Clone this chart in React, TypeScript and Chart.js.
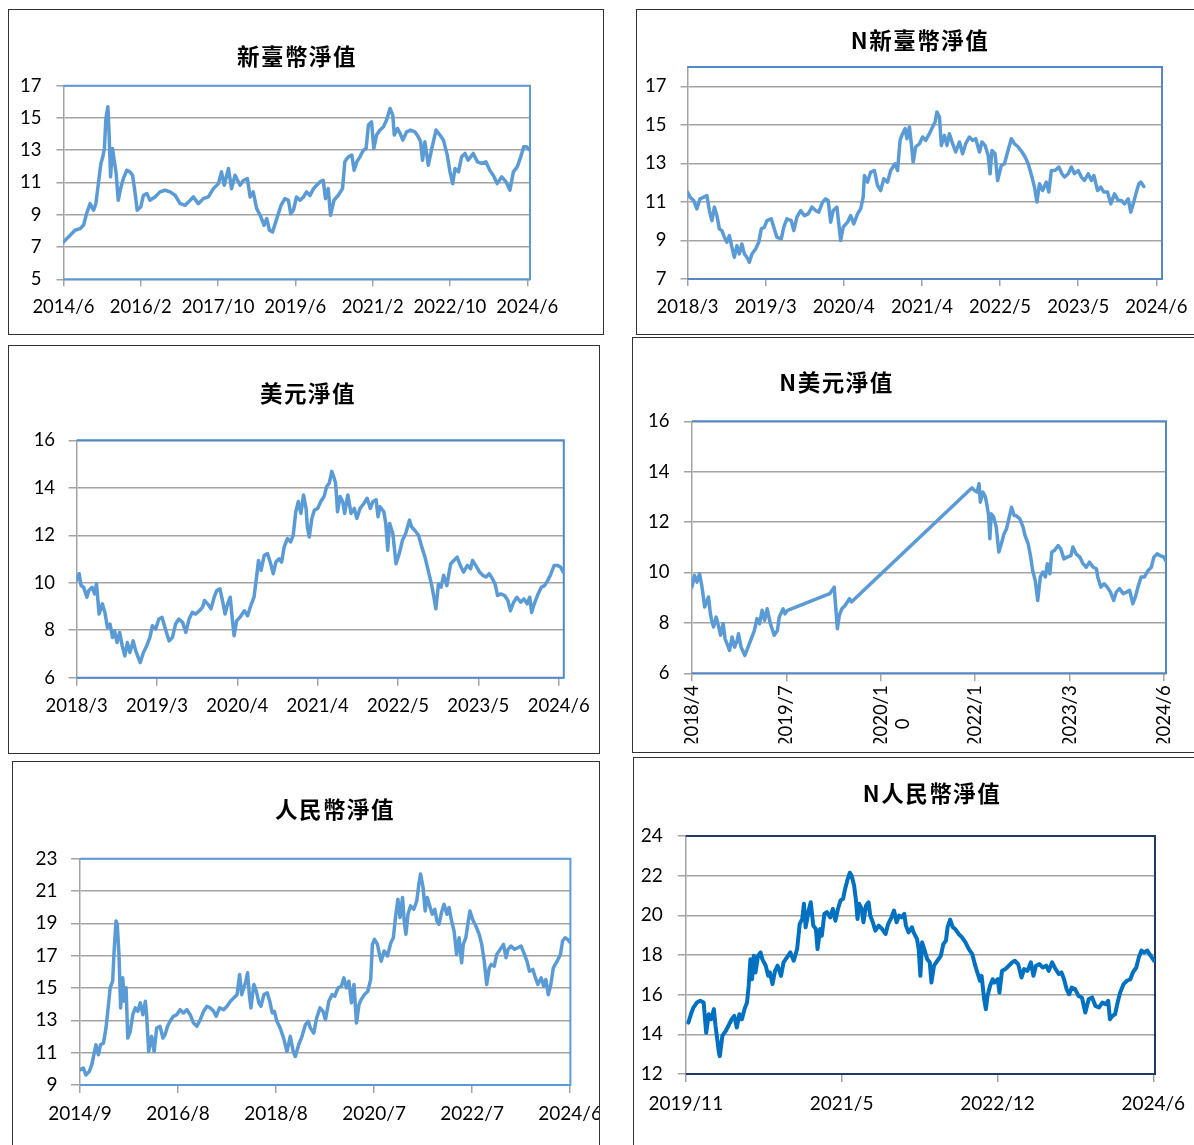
import React, { useEffect, useRef } from "react";
import { Chart, registerables } from "chart.js";
Chart.register(...registerables);

// ---------------- DATA ----------------
// 新臺幣淨值 (months since 2014/6)
const twdMonths = [0,1.7,3.0,4.3,5.2,6.0,6.9,7.8,8.4,9.1,9.7,10.2,10.6,11.0,11.5,11.8,12.2,12.7,13.2,13.6,14.2,14.8,15.5,16.4,17.2,17.9,18.5,19.1,20.0,20.7,21.6,22.4,23.7,25.0,26.3,27.6,28.9,30.2,31.5,32.8,33.6,34.9,36.2,37.5,38.8,40.1,40.9,41.6,42.7,43.5,44.4,45.7,46.6,47.6,48.3,49.1,50.0,50.9,51.9,52.6,53.3,54.1,55.2,56.3,57.3,58.2,58.8,59.5,60.3,61.2,62.1,62.9,63.8,64.7,65.5,66.4,67.2,67.8,68.5,69.1,70.0,71.1,72.2,72.8,73.7,74.6,75.2,75.9,76.7,77.6,78.3,78.9,79.7,80.3,81.0,81.9,82.8,83.6,84.5,85.2,85.6,86.4,87.1,87.8,88.8,89.8,90.9,91.8,92.4,92.9,93.5,94.4,95.3,96.4,97.4,98.3,99.3,100.0,100.7,101.3,102.2,103.0,103.9,104.7,106.0,107.1,108.2,109.3,110.3,111.2,112.2,113.4,114.5,115.5,116.4,117.4,118.3,119.1,119.8,120.7];
const twdNav = [7.31,7.72,8.04,8.14,8.35,9.07,9.69,9.28,9.69,11.04,12.18,12.59,13.11,14.97,15.7,14.14,11.35,13.11,12.28,11.66,9.9,10.62,11.24,11.76,11.66,11.45,10.42,9.28,9.48,10.2,10.31,9.9,10.1,10.42,10.52,10.42,10.21,9.69,9.59,9.9,10.11,9.69,10.0,10.11,10.62,10.93,11.66,10.83,11.87,10.62,11.45,10.83,11.14,11.24,10.1,10.42,9.38,8.97,8.35,8.76,8.04,7.93,8.76,9.59,10.0,9.9,9.07,9.28,10.1,9.9,10.1,10.42,10.2,10.62,10.83,11.04,11.14,10.0,10.62,8.97,9.9,10.21,10.62,12.28,12.59,12.7,11.76,12.28,12.59,13.0,13.11,14.56,14.76,13.11,13.94,14.25,14.45,14.87,15.59,15.18,13.94,14.35,14.04,13.63,14.14,14.25,14.14,13.83,13.52,12.38,13.52,12.07,13.11,14.25,13.94,13.63,12.7,11.66,10.93,11.87,11.66,12.59,12.8,12.38,12.8,12.28,12.18,12.28,11.76,11.45,10.93,11.35,11.04,10.52,11.66,11.97,12.59,13.21,13.21,13.0];
const twdTickMonths = [0,20,40,60,80,100,120];
const twdTickLabels = ["2014/6","2016/2","2017/10","2019/6","2021/2","2022/10","2024/6"];
const twdYTicks = [5,7,9,11,13,15,17];

// N新臺幣淨值 (months since 2018/3)
const nTwdMonths = [0,0.4,1.0,1.5,2.0,2.6,3.1,3.5,3.9,4.3,4.7,5.1,5.5,5.9,6.3,6.7,7.1,7.5,7.9,8.3,8.7,9.1,9.5,9.9,10.3,10.9,11.4,11.8,12.3,12.7,13.4,13.8,14.3,15.0,15.4,15.9,16.6,17.0,17.5,18.1,18.7,19.3,19.9,20.5,21.0,21.6,22.1,22.5,22.9,23.3,23.9,24.2,24.5,24.9,25.6,26.1,26.6,27.2,27.7,28.1,28.3,28.8,29.3,29.9,30.4,30.9,31.4,32.0,32.5,33.2,33.6,34.0,34.4,34.8,35.1,35.5,35.8,36.1,36.5,37.1,37.6,38.1,38.7,39.2,39.6,39.9,40.3,40.6,41.1,41.5,41.9,42.4,42.9,43.5,44.0,44.5,45.1,45.6,46.1,46.7,47.1,47.6,48.1,48.4,48.7,49.2,49.6,50.2,50.7,51.2,51.8,52.3,52.9,53.5,54.0,54.5,55.1,55.5,55.9,56.3,56.8,57.4,57.8,58.2,58.8,59.4,59.9,60.3,60.9,61.4,61.9,62.5,63.0,63.5,64.1,64.6,65.0,65.6,66.1,66.6,67.2,67.7,68.3,68.9,69.4,69.9,70.5,70.9,71.3,71.8,72.2,72.5,73.0];
const nTwdNav = [11.51,11.25,11.07,10.64,11.16,11.25,11.33,10.55,10.03,10.73,10.29,9.6,9.51,9.17,8.91,9.25,8.65,8.13,8.73,8.3,8.82,8.3,8.13,7.87,8.3,8.56,8.91,9.6,9.69,10.03,10.12,9.69,9.17,9.08,9.69,10.12,10.03,9.51,10.21,10.55,10.29,10.38,10.73,10.55,10.47,10.99,11.16,11.07,9.95,10.55,10.73,9.86,9.0,9.69,9.95,10.29,9.86,10.38,10.64,11.25,12.37,12.03,12.55,12.63,11.85,11.59,12.2,12.03,12.63,12.98,12.63,14.19,14.54,14.8,14.28,14.89,14.02,13.07,13.85,14.02,14.37,14.19,14.54,14.89,15.15,15.67,15.41,13.93,14.45,13.93,14.54,14.02,13.59,14.11,13.5,14.02,14.37,14.19,14.28,13.59,14.11,13.93,13.41,12.46,13.67,13.5,12.11,12.89,12.98,13.59,14.28,14.02,13.85,13.59,13.33,12.98,12.29,11.77,10.99,11.94,11.59,12.03,11.51,12.63,12.63,12.81,12.46,12.29,12.46,12.81,12.46,12.63,12.29,12.11,12.46,12.11,12.37,11.59,11.77,11.51,11.51,10.9,11.42,11.07,11.07,10.9,11.16,10.47,10.9,11.51,11.94,12.03,11.8];
const nTwdTickMonths = [0,12.5,25,37.5,50,62.5,75];
const nTwdTickLabels = ["2018/3","2019/3","2020/4","2021/4","2022/5","2023/5","2024/6"];
const nTwdYTicks = [7,9,11,13,15,17];

// 美元淨值 (months since 2018/3)
const usdMonths = [0,0.4,0.7,1.1,1.6,1.9,2.4,2.8,3.1,3.5,4.0,4.4,4.8,5.2,5.6,5.9,6.3,6.7,7.1,7.5,7.9,8.3,8.8,9.2,9.6,9.9,10.4,10.9,11.4,11.8,12.3,12.8,13.3,13.9,14.4,14.9,15.4,15.9,16.5,17.0,17.5,18.0,18.5,19.1,19.6,19.9,20.4,20.9,21.4,21.8,22.3,22.7,23.1,23.5,23.9,24.2,24.5,24.9,25.4,26.1,26.6,27.1,27.6,28.0,28.3,28.7,29.2,29.7,30.2,30.6,31.0,31.5,31.9,32.3,32.8,33.3,33.7,34.1,34.5,34.9,35.3,35.7,35.9,36.2,36.6,37.0,37.5,38.0,38.5,38.9,39.3,39.7,40.0,40.3,40.6,41.0,41.4,41.7,42.2,42.7,43.2,43.6,44.1,44.7,45.2,45.7,46.1,46.6,46.9,47.2,47.8,48.1,48.4,48.7,49.2,49.7,50.2,50.7,51.2,51.8,52.1,52.6,53.2,53.7,54.2,54.7,55.2,55.5,55.9,56.3,56.7,57.1,57.6,58.2,58.7,59.2,59.7,60.2,60.8,61.3,61.6,62.1,62.7,63.2,63.7,64.2,64.7,65.1,65.5,66.0,66.6,67.1,67.5,68.0,68.5,69.1,69.6,70.1,70.5,70.8,71.2,71.8,72.3,72.8,73.3,73.7,74.3,74.8,75.3,75.7];
const usdNav = [10.1,10.38,9.88,9.81,9.39,9.67,9.81,9.53,9.95,8.68,9.11,8.75,8.12,8.26,7.69,7.98,7.48,7.91,7.34,6.92,7.48,7.06,7.55,7.13,6.85,6.64,7.06,7.34,7.69,8.19,8.05,8.47,8.54,7.98,7.55,7.69,8.26,8.47,8.33,7.91,8.47,8.75,8.68,8.82,8.97,9.25,9.11,8.9,9.39,9.67,9.74,9.25,8.68,9.11,9.39,8.54,7.77,8.4,8.54,8.82,8.61,9.04,9.39,10.24,10.94,10.52,11.16,11.23,10.8,10.38,10.87,11.01,10.87,11.51,11.86,11.72,12.0,12.99,13.42,12.92,13.7,13.13,12.36,11.93,12.71,13.06,13.13,13.42,13.63,14.05,14.19,14.69,14.47,14.19,12.99,13.63,13.42,12.92,13.7,12.92,13.13,12.71,13.13,13.34,13.56,13.13,13.42,13.49,12.78,13.2,12.99,12.5,11.37,12.5,12.07,10.8,11.23,11.79,12.07,12.64,12.36,12.21,12.0,11.51,11.08,10.52,9.95,9.53,8.9,9.95,9.81,10.31,9.88,10.8,10.94,11.08,10.73,10.45,10.73,10.59,10.94,10.73,10.45,10.31,10.24,10.38,10.17,9.95,9.46,9.53,9.46,9.25,8.82,9.18,9.39,9.18,9.32,9.11,9.39,8.75,9.11,9.53,9.81,9.88,10.1,10.31,10.73,10.73,10.66,10.45];
const usdTickMonths = [0,12.5,25,37.5,50,62.5,75];
const usdTickLabels = ["2018/3","2019/3","2020/4","2021/4","2022/5","2023/5","2024/6"];
const usdYTicks = [6,8,10,12,14,16];

// N美元淨值 (months since 2018/4; gaps are drawn as straight lines)
const nUsdMonths = [0,0.4,0.8,1.2,1.5,1.7,2.0,2.2,2.6,2.9,3.1,3.4,3.8,4.2,4.5,4.9,5.2,5.5,5.9,6.3,6.7,7.1,7.3,7.7,8.3,8.8,9.4,9.8,10.2,10.6,11.0,11.4,11.8,12.3,12.9,13.4,13.7,14.3,14.6,15.0,21.6,22.3,22.5,22.8,23.1,23.5,24.0,24.7,25.0,43.9,44.3,44.7,45.0,45.2,45.6,46.0,46.3,46.5,46.7,46.9,47.3,47.7,48.1,48.5,48.9,49.3,49.6,50.1,50.5,50.8,51.4,51.9,52.2,52.7,53.1,53.4,53.8,54.2,54.6,55.0,55.4,55.7,56.1,56.4,56.8,57.4,57.8,58.3,58.8,59.4,59.7,60.2,60.8,61.3,61.8,62.3,62.9,63.4,63.6,64.1,64.6,65.1,65.6,66.1,66.5,67.0,67.6,68.1,68.6,69.1,69.5,69.9,70.4,70.9,71.5,72.0,72.4,72.9,73.4,74.0,74.3];
const nUsdNav = [9.42,9.88,9.62,9.95,9.55,9.22,8.63,8.76,9.03,8.36,8.1,7.84,8.23,7.84,7.51,7.97,7.37,7.18,6.91,7.44,7.04,7.31,7.57,7.04,6.71,7.04,7.44,7.7,8.17,7.97,8.5,8.1,8.56,7.97,7.51,7.7,8.23,8.56,8.36,8.5,9.16,9.42,8.76,7.77,8.3,8.56,8.69,8.96,8.83,13.36,13.25,13.19,13.52,12.79,13.19,12.99,12.59,12.26,11.34,12.33,12.2,11.8,10.81,11.14,11.53,11.73,12.06,12.59,12.26,12.26,12.13,11.8,11.47,11.14,10.61,10.08,9.69,8.89,9.82,10.02,9.82,10.35,9.95,10.81,10.87,11.07,10.94,10.54,10.61,10.67,11.01,10.74,10.61,10.35,10.21,10.41,10.21,10.15,9.82,9.42,9.55,9.42,9.22,8.89,9.22,9.36,9.16,9.22,9.29,8.76,9.03,9.42,9.82,9.82,10.08,10.21,10.61,10.74,10.67,10.61,10.45];
const nUsdTickMonths = [0,14.8,29.6,44.4,59.2,74];
const nUsdTickLabels: (string | string[])[] = ["2018/4","2019/7",["2020/1","0       "],"2022/1","2023/3","2024/6"];
const nUsdYTicks = [6,8,10,12,14,16];

// 人民幣淨值 (months since 2014/9)
const cnyMonths = [0,0.8,1.4,2.2,2.8,3.3,3.8,4.4,4.9,5.6,6.2,6.8,7.2,7.8,8.1,8.6,8.9,9.3,9.7,10.2,10.6,11.0,11.4,12.0,12.6,13.2,13.8,14.4,15.0,15.6,15.9,16.4,17.1,17.7,18.3,19.1,19.8,20.3,20.9,21.5,22.3,23.1,23.9,24.7,25.5,26.3,27.1,27.9,28.7,29.5,30.3,31.1,31.9,32.5,33.3,34.3,35.1,35.9,36.7,37.5,38.1,38.6,39.1,39.6,40.0,40.5,40.8,41.5,42.1,42.7,43.2,43.9,44.7,45.3,45.9,46.4,47.0,47.8,48.6,49.4,50.2,50.9,51.4,52.2,53.0,53.8,54.5,55.0,55.8,56.5,57.3,58.0,58.6,59.4,60.2,60.8,61.6,62.4,63.0,63.6,64.2,64.8,65.4,66.0,66.6,67.1,67.9,68.7,69.4,69.8,70.3,71.0,71.5,71.9,72.6,73.4,74.2,74.8,75.4,75.9,76.4,77.0,77.4,77.8,78.3,78.9,79.7,80.4,80.9,81.3,81.9,82.4,82.9,83.6,84.1,84.7,85.2,85.7,86.3,86.9,87.6,88.1,88.7,89.3,89.9,90.5,91.1,91.5,92.1,92.7,93.1,93.7,94.5,95.3,95.9,96.5,97.1,97.7,98.2,98.9,99.5,100.3,101.1,101.7,102.2,102.9,103.7,104.5,105.3,106.1,106.7,107.3,108.1,108.6,109.3,110.1,110.7,111.2,111.8,112.4,113.0,113.9,114.7,115.2,115.8,116.4,117.1];
const cnyNav = [9.94,10.04,9.62,9.83,10.25,10.87,11.49,10.87,11.49,11.59,12.52,13.97,15.01,15.42,17.08,19.15,18.94,17.08,13.77,15.63,14.18,15.01,11.9,12.32,13.35,13.77,13.56,14.08,13.35,14.18,13.35,11.07,12.01,11.07,12.52,12.63,11.9,12.11,12.63,12.94,13.25,13.35,13.66,13.46,13.66,13.35,12.83,12.63,13.04,13.56,13.87,13.77,13.56,13.25,13.77,13.66,13.87,14.18,14.39,14.59,15.84,14.59,15.01,15.42,15.94,14.39,13.77,15.22,14.8,14.08,13.87,14.59,14.7,14.18,13.46,13.56,12.94,12.52,11.9,11.07,12.01,11.07,10.76,11.49,12.01,12.73,12.94,12.52,12.21,13.15,13.77,13.56,13.04,14.18,14.59,14.49,15.01,15.11,15.63,15.01,15.42,14.08,15.22,12.83,13.97,14.28,14.59,14.8,15.53,17.7,18.01,17.7,17.08,16.66,17.29,16.98,17.8,18.11,19.56,20.49,19.36,20.6,19.15,18.32,19.56,20.08,19.87,20.39,21.43,22.05,21.22,19.77,20.6,19.98,19.56,19.87,19.15,18.94,19.67,20.18,19.56,19.98,19.15,18.53,17.08,18.11,16.56,17.7,18.11,19.15,19.77,19.25,18.84,18.32,17.7,16.66,15.22,16.25,16.46,16.35,17.08,17.39,17.7,16.87,17.39,17.6,17.39,17.49,17.6,17.08,16.66,16.04,16.15,15.73,15.22,15.63,15.11,15.53,14.59,15.22,16.25,16.66,17.08,17.91,18.11,18.01,17.8];
const cnyTickMonths = [0,23.4,46.8,70.2,93.6,117];
const cnyTickLabels = ["2014/9","2016/8","2018/8","2020/7","2022/7","2024/6"];
const cnyYTicks = [9,11,13,15,17,19,21,23];

// N人民幣淨值 (months since 2019/11)
const nCnyMonths = [0.3,0.6,0.9,1.3,1.7,2.1,2.4,2.7,3.0,3.3,3.5,3.9,4.0,4.3,4.7,5.0,5.4,5.7,6.0,6.3,6.6,6.9,7.2,7.4,7.6,7.8,8.0,8.2,8.5,8.8,9.0,9.4,9.7,9.9,10.2,10.5,10.8,11.2,11.5,11.9,12.3,12.7,13.1,13.4,13.7,13.9,14.1,14.5,14.7,15.0,15.3,15.5,15.8,16.0,16.3,16.6,17.0,17.3,17.6,17.9,18.2,18.5,18.7,19.0,19.3,19.5,19.8,20.0,20.2,20.4,20.7,20.9,21.2,21.5,21.7,22.0,22.3,22.7,23.1,23.5,23.8,24.2,24.5,24.8,25.1,25.4,25.7,25.9,26.2,26.6,26.8,27.2,27.4,27.6,27.8,28.1,28.4,28.7,28.9,29.2,29.6,30.0,30.3,30.6,30.8,31.1,31.4,31.7,32.1,32.5,32.9,33.3,33.7,34.0,34.3,34.6,34.8,35.1,35.3,35.5,35.8,36.1,36.3,36.7,36.9,37.2,37.6,38.0,38.4,38.7,39.1,39.5,39.8,40.2,40.6,40.9,41.2,41.6,42.0,42.4,42.7,43.1,43.5,43.9,44.2,44.5,44.8,45.1,45.4,45.8,46.2,46.6,47.0,47.4,47.8,48.2,48.6,49.0,49.4,49.7,49.9,50.2,50.5,50.8,51.1,51.5,51.9,52.3,52.6,53.0,53.3,53.6,53.9,54.3,54.7,55.1];
const nCnyNav = [14.59,15.01,15.35,15.6,15.69,15.6,14.08,15.01,14.76,15.27,14.42,13.07,12.9,13.92,14.17,14.42,14.76,14.93,14.34,15.01,14.76,15.27,15.6,16.45,17.79,16.78,17.96,17.12,17.96,18.13,17.79,17.46,16.95,17.12,16.53,17.2,17.46,16.95,17.63,17.88,18.13,17.71,18.3,19.56,19.82,20.58,19.4,20.32,20.66,19.48,19.31,18.3,19.31,18.97,20.07,20.16,19.9,20.32,19.73,20.32,20.75,20.83,21.25,21.76,22.15,22.01,21.5,20.83,19.82,20.58,20.32,19.65,20.49,20.66,19.99,19.65,19.23,19.48,19.31,19.06,19.56,19.9,20.24,19.65,19.99,19.9,20.07,19.48,19.14,19.4,19.14,18.81,18.3,16.95,18.64,18.22,17.79,17.63,16.61,17.46,17.71,17.96,18.55,18.72,19.4,19.78,19.4,19.31,19.06,18.89,18.64,18.3,18.05,17.54,17.12,16.7,16.95,15.77,15.27,15.94,16.45,16.78,16.61,16.78,16.11,17.2,17.29,17.46,17.63,17.71,17.54,16.87,17.29,17.2,17.63,16.95,17.46,17.54,17.37,17.46,17.2,17.63,17.29,17.04,17.12,16.78,16.28,16.02,16.36,16.28,15.94,15.86,15.1,15.77,15.86,15.43,15.35,15.6,15.52,15.69,14.76,14.93,15.01,15.6,16.11,16.53,16.7,16.78,17.12,17.37,17.88,18.22,18.13,18.22,17.96,17.71];
const nCnyTickMonths = [0,18.33,36.67,55];
const nCnyTickLabels = ["2019/11","2021/5","2022/12","2024/6"];
const nCnyYTicks = [12,14,16,18,20,22,24];

// ---------------- LAYOUT / STYLE ----------------
type Box = { x: number; y: number; w: number; h: number; right: boolean; bottom: boolean };
type Plot = { l: number; t: number; r: number; b: number };
type Cfg = {
  id: string; title: string; tx: number; ty: number;
  box: Box; plot: Plot;
  months: number[]; values: number[];
  xMax: number; xTicks: number[]; xLabels: (string | string[])[];
  yMin: number; yMax: number; yTicks: number[];
  font: number; yTL: number; yPad: number; xTL: number; xPad: number; rot: number; xH: number;
  line: string; lw: number; frame: string;
};

const LINE = "#5b9bd5";
const GRID = "#a3a3a3";

const panels: Cfg[] = [
  {
    id: "twd", title: "新臺幣淨值", tx: 297, ty: 55,
    box: { x: 8, y: 9, w: 596, h: 326, right: true, bottom: true },
    plot: { l: 63.4, t: 85.7, r: 530, b: 279.3 },
    months: twdMonths, values: twdNav, xMax: 120.7, xTicks: twdTickMonths, xLabels: twdTickLabels,
    yMin: 5, yMax: 17, yTicks: twdYTicks,
    font: 18.5, yTL: 7, yPad: 15, xTL: 7, xPad: 10, rot: 0, xH: 40,
    line: LINE, lw: 3.5, frame: "#5b9bd5",
  },
  {
    id: "ntwd", title: "N新臺幣淨值", tx: 920, ty: 39,
    box: { x: 636, y: 9, w: 558, h: 326, right: false, bottom: true },
    plot: { l: 687.5, t: 67, r: 1162, b: 279 },
    months: nTwdMonths, values: nTwdNav, xMax: 75.9, xTicks: nTwdTickMonths, xLabels: nTwdTickLabels,
    yMin: 7, yMax: 18, yTicks: nTwdYTicks,
    font: 18.5, yTL: 7, yPad: 14, xTL: 7, xPad: 10, rot: 0, xH: 40,
    line: LINE, lw: 3.5, frame: "#5088c8",
  },
  {
    id: "usd", title: "美元淨值", tx: 308, ty: 392,
    box: { x: 8, y: 345, w: 592, h: 409, right: true, bottom: true },
    plot: { l: 76.6, t: 440.3, r: 563.8, b: 677.7 },
    months: usdMonths, values: usdNav, xMax: 75.8, xTicks: usdTickMonths, xLabels: usdTickLabels,
    yMin: 6, yMax: 16, yTicks: usdYTicks,
    font: 18.5, yTL: 8, yPad: 13.5, xTL: 8, xPad: 9.5, rot: 0, xH: 40,
    line: LINE, lw: 3.5, frame: "#5088c8",
  },
  {
    id: "nusd", title: "N美元淨值", tx: 836.5, ty: 381,
    box: { x: 632, y: 337, w: 562, h: 416, right: false, bottom: true },
    plot: { l: 691.9, t: 421.3, r: 1166, b: 673.3 },
    months: nUsdMonths, values: nUsdNav, xMax: 74.3, xTicks: nUsdTickMonths, xLabels: nUsdTickLabels,
    yMin: 6, yMax: 16, yTicks: nUsdYTicks,
    font: 18.5, yTL: 8, yPad: 14.5, xTL: 8, xPad: 4, rot: 90, xH: 70,
    line: LINE, lw: 3.5, frame: "#5088c8",
  },
  {
    id: "cny", title: "人民幣淨值", tx: 335, ty: 807.5,
    box: { x: 12, y: 761, w: 588, h: 384, right: true, bottom: false },
    plot: { l: 80, t: 858.7, r: 570.4, b: 1085 },
    months: cnyMonths, values: cnyNav, xMax: 117.07, xTicks: cnyTickMonths, xLabels: cnyTickLabels,
    yMin: 9, yMax: 23, yTicks: cnyYTicks,
    font: 19, yTL: 9, yPad: 13.5, xTL: 8, xPad: 9, rot: 0, xH: 40,
    line: LINE, lw: 3.5, frame: "#5b9bd5",
  },
  {
    id: "ncny", title: "N人民幣淨值", tx: 932, ty: 792,
    box: { x: 633, y: 757, w: 561, h: 388, right: false, bottom: false },
    plot: { l: 685.8, t: 836, r: 1155, b: 1074 },
    months: nCnyMonths, values: nCnyNav, xMax: 55.2, xTicks: nCnyTickMonths, xLabels: nCnyTickLabels,
    yMin: 12, yMax: 24, yTicks: nCnyYTicks,
    font: 19, yTL: 8, yPad: 15, xTL: 8, xPad: 10, rot: 0, xH: 40,
    line: "#0070c0", lw: 4, frame: "#1f3864",
  },
];

const framePlugin = {
  id: "plotFrame",
  beforeDatasetsDraw(chart: any, _a: any, opts: any) {
    const { ctx, chartArea: a } = chart;
    ctx.save();
    ctx.strokeStyle = opts.color;
    ctx.lineWidth = opts.width;
    ctx.beginPath();
    ctx.moveTo(a.left, a.top);
    ctx.lineTo(a.right, a.top);
    ctx.lineTo(a.right, a.bottom);
    ctx.lineTo(a.left, a.bottom);
    ctx.stroke();
    ctx.restore();
  },
};

function Panel({ c }: { c: Cfg }) {
  const ref = useRef<HTMLCanvasElement>(null);
  const cw = c.box.w + 40;
  const ch = c.box.h;
  useEffect(() => {
    const canvas = ref.current;
    if (!canvas) return;
    const n = Math.min(c.months.length, c.values.length);
    const pts = [] as { x: number; y: number }[];
    for (let i = 0; i < n; i++) pts.push({ x: c.months[i], y: c.values[i] });
    const yW = c.plot.l - c.box.x;
    const padTop = c.plot.t - c.box.y;
    const padRight = cw - (c.plot.r - c.box.x);
    const padBottom = ch - (c.plot.b - c.box.y) - c.xH;
    const fontObj = { family: "Lato", size: c.font, lineHeight: 1.2 };
    const chart = new Chart(canvas, {
      type: "line",
      data: {
        datasets: [
          {
            data: pts,
            borderColor: c.line,
            borderWidth: c.lw,
            pointRadius: 0,
            tension: 0,
            fill: false,
            borderJoinStyle: "round",
            borderCapStyle: "round",
          },
        ],
      },
      options: {
        animation: false,
        responsive: false,
        devicePixelRatio: 1,
        parsing: false as any,
        layout: { padding: { left: 0, top: padTop, right: padRight, bottom: padBottom } },
        plugins: {
          legend: { display: false },
          tooltip: { enabled: false },
          plotFrame: { color: c.frame, width: 2 },
        } as any,
        scales: {
          x: {
            type: "linear",
            bounds: "data",
            min: 0,
            max: c.xMax,
            afterBuildTicks: (s: any) => {
              s.ticks = c.xTicks.map((v) => ({ value: v }));
            },
            afterFit: (s: any) => {
              s.height = c.xH;
            },
            ticks: {
              autoSkip: false,
              minRotation: c.rot,
              maxRotation: c.rot,
              padding: c.xPad,
              color: "#000",
              font: fontObj,
              callback: (_v: any, i: number) => c.xLabels[i] as any,
            },
            grid: {
              drawOnChartArea: false,
              drawTicks: true,
              tickLength: c.xTL,
              color: GRID,
              lineWidth: 1.5,
            },
            border: { display: false },
          },
          y: {
            type: "linear",
            bounds: "data",
            min: c.yMin,
            max: c.yMax,
            afterBuildTicks: (s: any) => {
              s.ticks = c.yTicks.map((v) => ({ value: v }));
            },
            afterFit: (s: any) => {
              s.width = yW;
            },
            ticks: {
              padding: c.yPad,
              color: "#000",
              font: fontObj,
              callback: (v: any) => String(v),
            },
            grid: {
              color: GRID,
              lineWidth: 1.5,
              drawTicks: true,
              tickLength: c.yTL,
            },
            border: { display: true, color: GRID, width: 1.5 },
          },
        },
      } as any,
      plugins: [framePlugin as any],
    });
    return () => chart.destroy();
  }, [c]);

  const bc = "1px solid #333";
  return (
    <>
      <div
        style={{
          position: "absolute",
          left: c.box.x,
          top: c.box.y,
          width: c.box.w,
          height: c.box.h,
          boxSizing: "border-box",
          borderLeft: bc,
          borderTop: bc,
          borderRight: c.box.right ? bc : "none",
          borderBottom: c.box.bottom ? bc : "none",
          overflow: "hidden",
          background: "#fff",
        }}
      >
        <canvas
          ref={ref}
          width={cw}
          height={ch}
          style={{ position: "absolute", left: -1, top: -1, width: cw, height: ch }}
        />
      </div>
      <div
        style={{
          position: "absolute",
          left: c.tx,
          top: c.ty,
          transform: "translate(-50%, -50%)",
          font: 'bold 22.5px "Noto Sans CJK TC"',
          letterSpacing: "1.5px",
          lineHeight: 1,
          whiteSpace: "nowrap",
          color: "#000",
        }}
      >
        {c.title}
      </div>
    </>
  );
}

export default function App() {
  return (
    <>
      {panels.map((p) => (
        <Panel key={p.id} c={p} />
      ))}
    </>
  );
}
